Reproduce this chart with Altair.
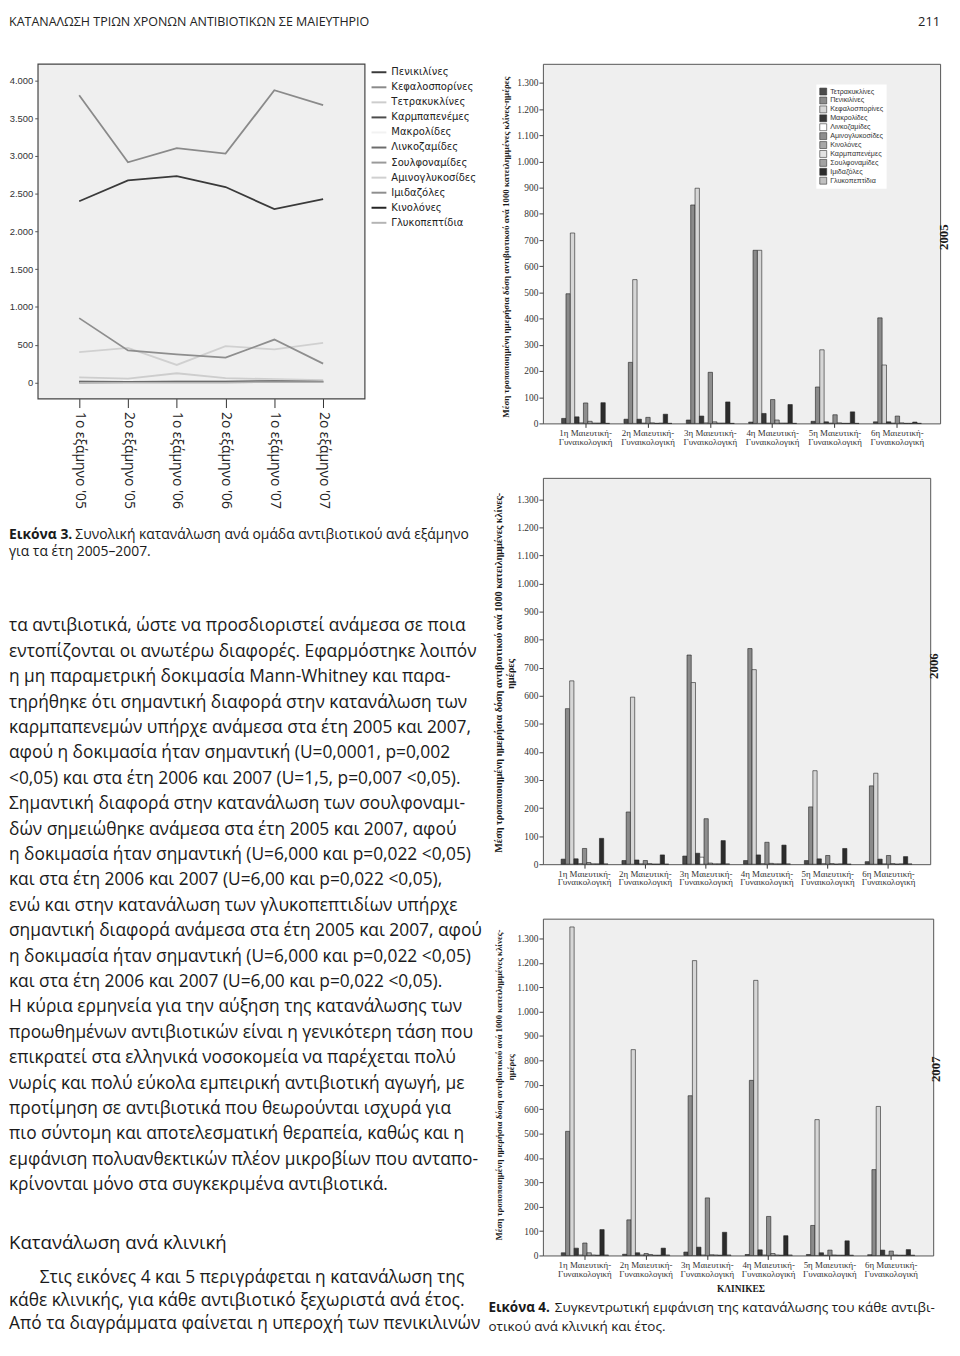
import altair as alt
import pandas as pd

# ---------------- texts ----------------
HEADER = "ΚΑΤΑΝΑΛΩΣΗ ΤΡΙΩΝ ΧΡΟΝΩΝ ΑΝΤΙΒΙΟΤΙΚΩΝ ΣΕ ΜΑΙΕΥΤΗΡΙΟ"
PAGE_NO = "211"
CAP3_BOLD = "Εικόνα 3."
CAP3_REST = "Συνολική κατανάλωση ανά ομάδα αντιβιοτικού ανά εξάμηνο"
CAP3_LINE2 = "για τα έτη 2005–2007."
BODY_LINES = [
    "τα αντιβιοτικά, ώστε να προσδιοριστεί ανάμεσα σε ποια",
    "εντοπίζονται οι ανωτέρω διαφορές. Εφαρμόστηκε λοιπόν",
    "η μη παραμετρική δοκιμασία Mann-Whitney και παρα-",
    "τηρήθηκε ότι σημαντική διαφορά στην κατανάλωση των",
    "καρμπαπενεμών υπήρχε ανάμεσα στα έτη 2005 και 2007,",
    "αφού η δοκιμασία ήταν σημαντική (U=0,0001, p=0,002",
    "<0,05) και στα έτη 2006 και 2007 (U=1,5, p=0,007 <0,05).",
    "Σημαντική διαφορά στην κατανάλωση των σουλφοναμι-",
    "δών σημειώθηκε ανάμεσα στα έτη 2005 και 2007, αφού",
    "η δοκιμασία ήταν σημαντική (U=6,000 και p=0,022 <0,05)",
    "και στα έτη 2006 και 2007 (U=6,00 και p=0,022 <0,05),",
    "ενώ και στην κατανάλωση των γλυκοπεπτιδίων υπήρχε",
    "σημαντική διαφορά ανάμεσα στα έτη 2005 και 2007, αφού",
    "η δοκιμασία ήταν σημαντική (U=6,000 και p=0,022 <0,05)",
    "και στα έτη 2006 και 2007 (U=6,00 και p=0,022 <0,05).",
    "Η κύρια ερμηνεία για την αύξηση της κατανάλωσης των",
    "προωθημένων αντιβιοτικών είναι η γενικότερη τάση που",
    "επικρατεί στα ελληνικά νοσοκομεία να παρέχεται πολύ",
    "νωρίς και πολύ εύκολα εμπειρική αντιβιοτική αγωγή, με",
    "προτίμηση σε αντιβιοτικά που θεωρούνται ισχυρά για",
    "πιο σύντομη και αποτελεσματική θεραπεία, καθώς και η",
    "εμφάνιση πολυανθεκτικών πλέον μικροβίων που ανταπο-",
    "κρίνονται μόνο στα συγκεκριμένα αντιβιοτικά.",
]
HEADING = "Κατανάλωση ανά κλινική"
PARA_FIRST = "Στις εικόνες 4 και 5 περιγράφεται η κατανάλωση της"
PARA_REST = [
    "κάθε κλινικής, για κάθε αντιβιοτικό ξεχωριστά ανά έτος.",
    "Από τα διαγράμματα φαίνεται η υπεροχή των πενικιλινών",
]
CAP4_BOLD = "Εικόνα 4."
CAP4_REST = "Συγκεντρωτική εμφάνιση της κατανάλωσης του κάθε αντιβι-"
CAP4_LINE2 = "οτικού ανά κλινική και έτος."
YTITLE_FULL = "Μέση τροποποιημένη ημερήσια δόση αντιβιοτικού ανά 1000 κατειλημμένες κλίνες-ημέρες"
YTITLE_LINE1 = "Μέση τροποποιημένη ημερήσια δόση αντιβιοτικού ανά 1000 κατειλημμένες κλίνες-"
YTITLE_LINE2 = "ημέρες"
XTITLE = "ΚΛΙΝΙΚΕΣ"

# ---------------- line chart data (Εικόνα 3) ----------------
SEMESTERS = ["1ο εξάμηνο '05", "2ο εξάμηνο '05", "1ο εξάμηνο '06",
             "2ο εξάμηνο '06", "1ο εξάμηνο '07", "2ο εξάμηνο '07"]
LINE_DRUGS = ["Πενικιλίνες", "Κεφαλοσπορίνες", "Τετρακυκλίνες", "Καρμπαπενέμες",
              "Μακρολίδες", "Λινκοζαμίδες", "Σουλφοναμίδες", "Αμινογλυκοσίδες",
              "Ιμιδαζόλες", "Κινολόνες", "Γλυκοπεπτίδια"]
LINE_COLORS = ["#3a3a3a", "#8a8a8a", "#cdcdcd", "#4c4c4c", "#f2f2f2", "#6c6c6c",
               "#9a9a9a", "#d0d0d0", "#8e8e8e", "#242424", "#b4b4b4"]
penikilines = [2400, 2675, 2732, 2588, 2295, 2426]
kefalosporines = [3803, 2916, 3104, 3030, 3869, 3672]
tetrakyklines = [66, 52, 122, 57, 44, 31]
karbapenemes = [3, 4, 6, 5, 12, 14]
makrolides = [20, 18, 22, 20, 24, 22]
linkozamides = [8, 6, 8, 7, 10, 9]
soulfonamides = [2, 2, 3, 3, 6, 8]
aminoglykosides = [402, 459, 232, 481, 437, 525]
imidazoles = [852, 425, 372, 328, 568, 249]
kinolones = [10, 9, 11, 10, 15, 12]
glykopeptidia = [1, 1, 2, 2, 4, 5]
LINE_SERIES = [penikilines, kefalosporines, tetrakyklines, karbapenemes, makrolides,
               linkozamides, soulfonamides, aminoglykosides, imidazoles, kinolones,
               glykopeptidia]
LINE_TICKS = [0, 500, 1000, 1500, 2000, 2500, 3000, 3500, 4000]

# ---------------- bar chart data (Εικόνα 4) ----------------
CLINICS = ["1η Μαιευτική-Γυναικολογική", "2η Μαιευτική-Γυναικολογική",
           "3η Μαιευτική-Γυναικολογική", "4η Μαιευτική-Γυναικολογική",
           "5η Μαιευτική-Γυναικολογική", "6η Μαιευτική-Γυναικολογική"]
BAR_DRUGS = ["Τετρακυκλίνες", "Πενικιλίνες", "Κεφαλοσπορίνες", "Μακρολίδες",
             "Λινκοζαμίδες", "Αμινογλυκοσίδες", "Κινολόνες", "Καρμπαπενέμες",
             "Σουλφοναμίδες", "Ιμιδαζόλες", "Γλυκοπεπτίδια"]
BAR_COLORS = ["#4a4a4a", "#8a8a8a", "#d6d6d6", "#383838", "#ffffff", "#8e8e8e",
              "#a8a8a8", "#e2e2e2", "#a2a2a2", "#2c2c2c", "#c0c0c0"]
BAR_TICKS = list(range(0, 1301, 100))

tetra_05 = [19, 16, 13, 5, 8, 6]
penic_05 = [495, 233, 834, 661, 139, 403]
ceph_05 = [727, 549, 898, 661, 281, 223]
macro_05 = [25, 16, 28, 38, 6, 6]
linco_05 = [2, 1, 2, 1, 1, 1]
amino_05 = [78, 23, 195, 91, 33, 28]
quino_05 = [8, 2, 6, 13, 2, 2]
carba_05 = [1, 0, 1, 1, 0, 0]
sulfo_05 = [1, 1, 1, 1, 0, 0]
imida_05 = [79, 35, 82, 72, 44, 5]
glyco_05 = [0, 0, 0, 0, 0, 0]
BARS_2005 = [tetra_05, penic_05, ceph_05, macro_05, linco_05, amino_05,
             quino_05, carba_05, sulfo_05, imida_05, glyco_05]

tetra_06 = [18, 13, 29, 13, 13, 9]
penic_06 = [554, 186, 745, 768, 204, 279]
ceph_06 = [653, 595, 647, 693, 333, 324]
macro_06 = [19, 15, 39, 33, 19, 18]
linco_06 = [2, 1, 25, 2, 2, 1]
amino_06 = [56, 13, 162, 78, 31, 31]
quino_06 = [6, 2, 4, 3, 2, 2]
carba_06 = [1, 0, 1, 1, 0, 0]
sulfo_06 = [1, 0, 1, 1, 1, 1]
imida_06 = [92, 33, 84, 68, 56, 27]
glyco_06 = [1, 0, 1, 1, 0, 1]
BARS_2006 = [tetra_06, penic_06, ceph_06, macro_06, linco_06, amino_06,
             quino_06, carba_06, sulfo_06, imida_06, glyco_06]

tetra_07 = [11, 5, 14, 4, 4, 3]
penic_07 = [509, 146, 655, 718, 123, 352]
ceph_07 = [1347, 844, 1209, 1128, 557, 611]
macro_07 = [30, 11, 34, 23, 11, 22]
linco_07 = [2, 2, 2, 2, 1, 1]
amino_07 = [51, 8, 236, 160, 22, 18]
quino_07 = [11, 4, 3, 8, 2, 2]
carba_07 = [2, 1, 2, 2, 1, 1]
sulfo_07 = [1, 1, 1, 1, 1, 1]
imida_07 = [106, 30, 95, 81, 60, 24]
glyco_07 = [2, 2, 2, 2, 1, 1]
BARS_2007 = [tetra_07, penic_07, ceph_07, macro_07, linco_07, amino_07,
             quino_07, carba_07, sulfo_07, imida_07, glyco_07]

# ---------------- tables ----------------
line_df = pd.DataFrame([
    {"drug": d, "semester": s, "value": v}
    for d, series in zip(LINE_DRUGS, LINE_SERIES)
    for s, v in zip(SEMESTERS, series)
])


def bar_df(series_list):
    return pd.DataFrame([
        {"antibiotic": d, "clinic": c, "value": v}
        for d, series in zip(BAR_DRUGS, series_list)
        for c, v in zip(CLINICS, series)
    ])


one = pd.DataFrame({"k": [0]})

TEXT_FONT = "Open Sans"
SERIF = "Liberation Serif"
NARROW = "Liberation Sans Narrow, DejaVu Sans Condensed, Roboto"
DOT_THOUSANDS = "replace(format(datum.value, ','), ',', '.')"


def text_layer(text, x, y, size, weight="normal", font=TEXT_FONT, align="left",
               baseline="middle", angle=0, line_height=None, color="#1a1a1a"):
    kw = dict(text=text, fontSize=size, fontWeight=weight, font=font, align=align,
              baseline=baseline, color=color)
    if angle:
        kw["angle"] = angle
    if line_height:
        kw["lineHeight"] = line_height
    return alt.Chart(one).mark_text(**kw).encode(x=alt.value(x), y=alt.value(y))


# ---------------- left: line chart + page texts ----------------
lines = alt.Chart(line_df).mark_line(strokeWidth=1.8).encode(
    x=alt.X("semester:N", sort=SEMESTERS,
            scale=alt.Scale(type="point", padding=0.85),
            axis=alt.Axis(title="", labelAngle=90, labelFont=TEXT_FONT, labelFontSize=14,
                          labelColor="#222", tickSize=9, tickColor="#333", labelPadding=4,
                          domain=False)),
    y=alt.Y("value:Q", scale=alt.Scale(domain=[-214, 4219], nice=False, zero=False),
            axis=alt.Axis(title="", values=LINE_TICKS, labelExpr=DOT_THOUSANDS,
                          labelFont="Liberation Sans", labelFontSize=9.5, labelColor="#333",
                          tickSize=3, tickColor="#555", labelPadding=2, domain=False,
                          grid=False)),
    color=alt.Color("drug:N", sort=LINE_DRUGS,
                    scale=alt.Scale(domain=LINE_DRUGS, range=LINE_COLORS),
                    legend=alt.Legend(orient="none", legendX=336, legendY=0, title=None,
                                      padding=0, symbolType="stroke", symbolSize=225,
                                      symbolStrokeWidth=2, labelOffset=4,
                                      labelFont=NARROW, labelFontSize=11.2,
                                      labelColor="#222", rowPadding=1.2, labelLimit=200)),
)

left = alt.layer(
    lines,
    text_layer(HEADER, -29, -38.5, 12.6, baseline="alphabetic", color="#222"),
    text_layer(PAGE_NO, 911, -38.5, 13, align="right", baseline="alphabetic", color="#222"),
    text_layer(CAP3_BOLD, -29, 476, 14, weight="bold"),
    text_layer(CAP3_REST, 38, 476, 14),
    text_layer(CAP3_LINE2, -29, 493, 14),
    text_layer(BODY_LINES, -29, 568, 17.5, line_height=25.64),
    text_layer(HEADING, -29, 1190, 18.8),
    text_layer(PARA_FIRST, 2, 1226, 17.5),
    text_layer(PARA_REST, -29, 1249, 17.5, line_height=23),
).properties(width=330, height=338,
             view=alt.ViewBackground(fill="#efefef", stroke="#444", strokeWidth=1.2))


# ---------------- right: bar charts ----------------
def bar_chart(series_list, width, height, ymax, legend, extra):
    bars = alt.Chart(bar_df(series_list)).mark_bar(stroke="#222", strokeWidth=0.6).encode(
        x=alt.X("clinic:N", sort=CLINICS,
                scale=alt.Scale(paddingInner=0.23, paddingOuter=0.3),
                axis=alt.Axis(title="", labelAngle=0,
                              labelExpr="[split(datum.label, '-')[0] + '-', split(datum.label, '-')[1]]",
                              labelFont=SERIF, labelFontSize=9, labelLineHeight=9,
                              labelColor="#333", tickSize=4, tickColor="#333",
                              labelPadding=1, domain=False)),
        xOffset=alt.XOffset("antibiotic:N", sort=BAR_DRUGS,
                            scale=alt.Scale(paddingInner=0, paddingOuter=0)),
        y=alt.Y("value:Q", scale=alt.Scale(domain=[0, ymax], nice=False),
                axis=alt.Axis(title="", values=BAR_TICKS, labelExpr=DOT_THOUSANDS,
                              labelFont=SERIF, labelFontSize=9.5, labelColor="#333",
                              tickSize=4, tickColor="#444", labelPadding=1,
                              domain=False, grid=False)),
        color=alt.Color("antibiotic:N", sort=BAR_DRUGS,
                        scale=alt.Scale(domain=BAR_DRUGS, range=BAR_COLORS),
                        legend=legend),
    )
    return alt.layer(bars, *extra).properties(
        width=width, height=height,
        view=alt.ViewBackground(fill="#efefef", stroke="#555", strokeWidth=1))


bar_legend = alt.Legend(orient="none", legendX=276, legendY=21, title=None, padding=3,
                        fillColor="white", symbolType="square", symbolSize=49,
                        symbolStrokeColor="#333", symbolStrokeWidth=0.6, symbolOpacity=1,
                        labelFont="Liberation Sans", labelFontSize=7.2, labelColor="#333",
                        labelOffset=3, rowPadding=-1, labelLimit=150)

YT = dict(weight="bold", font=SERIF, angle=270)
# vertical year labels, kept inside the page's right edge
YEAR = dict(size=13, weight="bold", font=SERIF, align="center", angle=270, baseline="middle")

c1 = bar_chart(BARS_2005, 401, 363, 1373, bar_legend, [
    # anchored at its top end (text runs downward from the anchor)
    text_layer(YTITLE_FULL, -37, 13, size=9.0, align="right", **YT),
    text_layer("2005", 405, 175, **YEAR),
])
c2 = bar_chart(BARS_2006, 391, 390, 1376, None, [
    text_layer(YTITLE_LINE1, -44, 15, size=10.3, align="right", **YT),
    text_layer(YTITLE_LINE2, -32, 198, size=10.3, align="center", **YT),
    text_layer("2006", 395, 190, **YEAR),
])
c3 = bar_chart(BARS_2007, 394, 340, 1381, None, [
    # anchored at its bottom end (text runs upward from the anchor)
    text_layer(YTITLE_LINE1, -44, 325, size=8.9, align="left", **YT),
    text_layer(YTITLE_LINE2, -32, 150, size=8.9, align="center", **YT),
    text_layer("2007", 397, 152, **YEAR),
    text_layer(XTITLE, 200, 374, 9.5, weight="bold", font=SERIF, align="center"),
    text_layer(CAP4_BOLD, -55, 393, 13.6, weight="bold"),
    text_layer(CAP4_REST, 12, 393, 13.6),
    text_layer(CAP4_LINE2, -55, 412, 13.6),
])

hidden_view = alt.ViewBackground(stroke="transparent", fill="transparent")
spacer2 = alt.Chart(one).mark_point(opacity=0).encode(
    x=alt.value(0), y=alt.value(0)).properties(width=340, height=10, view=hidden_view)
spacer3 = alt.Chart(one).mark_point(opacity=0).encode(
    x=alt.value(0), y=alt.value(0)).properties(width=338, height=10, view=hidden_view)

chart = alt.concat(
    left, c1, spacer2, c2, spacer3, c3,
    columns=2, spacing={"row": 55, "column": 170}, bounds="flush", align="none",
).resolve_scale(
    color="independent", x="independent", y="independent", xOffset="independent"
).properties(padding=0).configure_view(stroke="transparent").configure(font=TEXT_FONT)

chart.save("out.html", embed_options={"renderer": "svg", "actions": False})
